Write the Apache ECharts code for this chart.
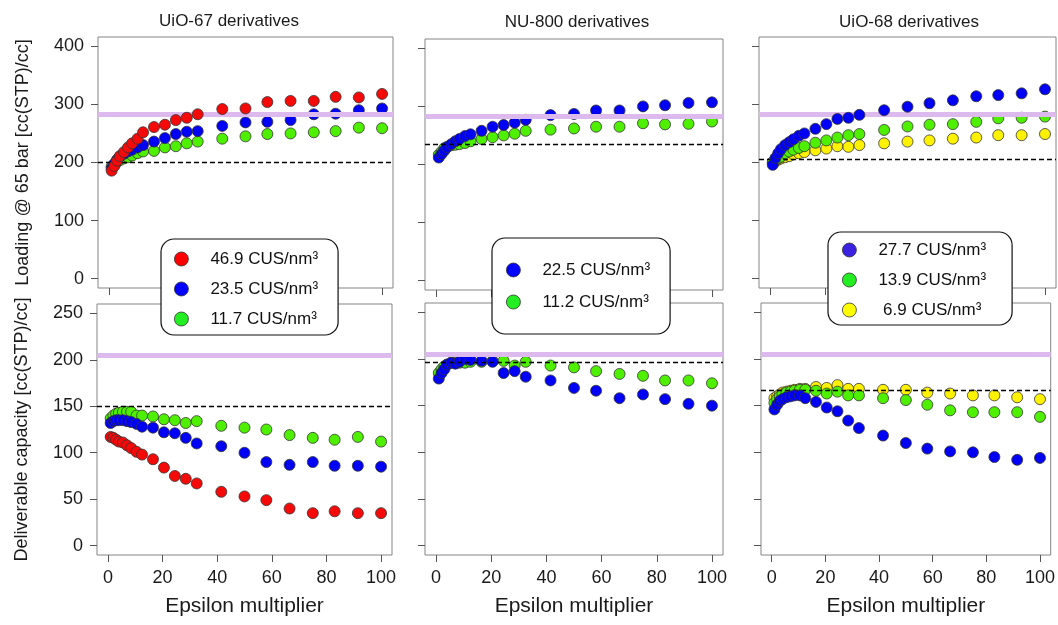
<!DOCTYPE html>
<html><head><meta charset="utf-8">
<script src="https://cdn.jsdelivr.net/npm/echarts@6/dist/echarts.min.js"></script>
<style>html,body{margin:0;padding:0;background:#fff}#c{width:1058px;height:625px}</style>
</head><body><div id="c"></div>
<script>
// ---------------- data ----------------
const epsilon = [1, 2, 3, 4, 5.5, 7, 8.5, 10.5, 12.5, 16.5, 20.5, 24.5, 28.5, 32.5, 41.5, 50, 58, 66.5, 75, 83, 91.5, 100];

const panelTitles = ['UiO-67 derivatives', 'NU-800 derivatives', 'UiO-68 derivatives'];
const loadTicks = [0, 100, 200, 300, 400];
const dcTicks = [0, 50, 100, 150, 200, 250];
const xTicks = [0, 20, 40, 60, 80, 100];

// UiO-67 (left column)
const uio67Names = ['46.9 CUS/nm³', '23.5 CUS/nm³', '11.7 CUS/nm³'];
const uio67Load469 = [186, 194, 203, 211, 218, 226, 233, 241, 252, 261, 265, 273, 277, 283, 292, 293, 304, 306, 306, 313, 312, 318];
const uio67Load235 = [190, 198, 205, 210, 215, 219, 222, 226, 230, 236, 242, 249, 253, 254, 263, 269, 270, 273, 283, 284, 290, 293];
const uio67Load117 = [193, 197, 201, 204, 207, 209, 212, 216, 219, 220, 226, 228, 233, 236, 241, 245, 249, 250, 252, 254, 260, 259];
const uio67Dc469 = [117, 116, 114, 112, 111, 108, 105, 101, 98, 93, 84, 75, 72, 67, 58, 53, 49, 40, 35, 37, 35, 35];
const uio67Dc235 = [132, 134, 135, 135, 135, 134, 133, 131, 128, 127, 122, 121, 116, 110, 107, 100, 90, 87, 90, 86, 86, 85];
const uio67Dc117 = [137, 140, 142, 143, 144, 144, 144, 140, 140, 139, 136, 135, 132, 134, 129, 127, 125, 119, 116, 114, 117, 112];

// NU-800 (middle column)
const nu800Names = ['22.5 CUS/nm³', '11.2 CUS/nm³'];
const nu800Load225 = [212, 218, 224, 230, 235, 240, 244, 249, 252, 258, 265, 268, 272, 277, 285, 287, 293, 293, 300, 302, 306, 307];
const nu800Load112 = [217, 222, 228, 230, 233, 234, 235, 237, 240, 244, 247, 250, 253, 258, 260, 262, 265, 265, 271, 269, 270, 274];
const nu800Dc225 = [179, 185, 189, 194, 196, 195, 197, 200, 199, 198, 197, 185, 187, 181, 177, 169, 166, 158, 162, 157, 152, 150];
const nu800Dc112 = [185, 189, 192, 194, 196, 196, 196, 196, 197, 197, 198, 198, 193, 197, 193, 191, 187, 184, 182, 177, 177, 174];

// UiO-68 (right column)
const uio68Names = ['27.7 CUS/nm³', '13.9 CUS/nm³', '6.9 CUS/nm³'];
const uio68Load277 = [196, 208, 216, 223, 230, 235, 240, 246, 250, 258, 266, 275, 277, 282, 290, 296, 302, 307, 314, 316, 319, 326];
const uio68Load139 = [201, 204, 208, 210, 216, 219, 222, 225, 228, 234, 238, 243, 247, 249, 256, 262, 265, 266, 270, 276, 277, 279];
const uio68Load69 = [199, 202, 205, 207, 209, 211, 214, 216, 218, 221, 224, 228, 227, 230, 233, 236, 238, 241, 243, 247, 247, 249];
const uio68Dc277 = [146, 151, 155, 157, 159, 160, 161, 161, 158, 154, 148, 144, 134, 126, 118, 110, 104, 101, 100, 95, 92, 94];
const uio68Dc139 = [153, 157, 160, 162, 164, 165, 166, 167, 167, 166, 163, 165, 161, 161, 158, 156, 151, 145, 143, 143, 143, 138];
const uio68Dc69 = [158, 160, 162, 164, 165, 166, 167, 168, 168, 170, 169, 172, 168, 168, 167, 167, 164, 163, 161, 161, 159, 157];

// reference lines (purple target, black dashed parent)
const targetLoad = [283, 283, 283];
const parentLoad = [200, 234, 206];
const targetDc = [205, 205, 205];
const parentDc = [150, 196, 166];

// ---------------- styling ----------------
const FONT = "'Liberation Sans', Arial, Helvetica, sans-serif";
const RED = '#f50a0a', BLUE = '#0000f5', GREEN = '#4ef000', YELLOW = '#fff200';
const grids = [
  {left: 98, top: 37, width: 295, height: 251},
  {left: 425, top: 39, width: 298, height: 251},
  {left: 759, top: 37, width: 297, height: 251},
  {left: 97, top: 304, width: 295, height: 251},
  {left: 425, top: 303, width: 298, height: 252},
  {left: 761, top: 303, width: 296, height: 252}
].map(g => Object.assign({show: true, borderColor: '#858585', borderWidth: 1, backgroundColor: 'transparent'}, g));

function xAxis(i) {
  const bottom = i >= 3;
  return {
    type: 'value', gridIndex: i, min: -4, max: 104, position: 'bottom',
    axisLine: {show: false, onZero: false}, splitLine: {show: false},
    axisTick: {show: true, customValues: xTicks, length: 7, lineStyle: {color: '#555'}},
    axisLabel: {show: bottom, customValues: xTicks, margin: 14, fontSize: 18, color: '#1a1a1a', fontFamily: FONT},
    name: bottom ? 'Epsilon multiplier' : '', nameLocation: 'middle', nameGap: 41,
    nameTextStyle: {fontSize: 21, color: '#1a1a1a', fontFamily: FONT}
  };
}
function yAxis(i) {
  const top = i < 3;
  const left = i === 0 || i === 3;
  const ticks = top ? loadTicks : dcTicks;
  return {
    type: 'value', gridIndex: i, min: top ? -16 : -10, max: top ? 416 : 260, position: 'left',
    axisLine: {show: false, onZero: false}, splitLine: {show: false},
    axisTick: {show: true, customValues: ticks, length: 7, lineStyle: {color: '#555'}},
    axisLabel: {show: left, customValues: ticks, margin: 14, fontSize: 18, color: '#1a1a1a', fontFamily: FONT},
    name: left ? (top ? 'Loading @ 65 bar [cc(STP)/cc]' : 'Deliverable capacity [cc(STP)/cc]') : '',
    nameLocation: 'middle', nameGap: 66,
    nameTextStyle: {fontSize: 18, color: '#1a1a1a', fontFamily: FONT}
  };
}

function pts(vals) { return vals.map((v, k) => [epsilon[k], v]); }
function scatter(name, color, vals, gi, z) {
  return {
    type: 'scatter', name: name, xAxisIndex: gi, yAxisIndex: gi, data: pts(vals),
    symbol: 'circle', symbolSize: 11, z: z,
    itemStyle: {color: color, borderColor: '#333', borderWidth: 0.8, opacity: 1},
    emphasis: {disabled: true}, animation: false
  };
}
function refLines(gi, target, parent) {
  return [
    {type: 'scatter', xAxisIndex: gi, yAxisIndex: gi, data: [], z: 1, silent: true,
     markLine: {silent: true, symbol: 'none', label: {show: false}, animation: false,
       lineStyle: {color: '#dcbaee', width: 5, type: 'solid'}, data: [{yAxis: target}]}},
    {type: 'scatter', xAxisIndex: gi, yAxisIndex: gi, data: [], z: 6, silent: true,
     markLine: {silent: true, symbol: 'none', label: {show: false}, animation: false,
       lineStyle: {color: '#000', width: 1.4, type: [5, 3]}, data: [{yAxis: parent}]}}
  ];
}

const series = [
  ...refLines(0, targetLoad[0], parentLoad[0]),
  scatter(uio67Names[2], GREEN, uio67Load117, 0, 3),
  scatter(uio67Names[1], BLUE, uio67Load235, 0, 4),
  scatter(uio67Names[0], RED, uio67Load469, 0, 5),
  ...refLines(3, targetDc[0], parentDc[0]),
  scatter(uio67Names[2], GREEN, uio67Dc117, 3, 3),
  scatter(uio67Names[1], BLUE, uio67Dc235, 3, 4),
  scatter(uio67Names[0], RED, uio67Dc469, 3, 5),

  ...refLines(1, targetLoad[1], parentLoad[1]),
  scatter(nu800Names[1], GREEN, nu800Load112, 1, 3),
  scatter(nu800Names[0], BLUE, nu800Load225, 1, 4),
  ...refLines(4, targetDc[1], parentDc[1]),
  scatter(nu800Names[1], GREEN, nu800Dc112, 4, 3),
  scatter(nu800Names[0], BLUE, nu800Dc225, 4, 4),

  ...refLines(2, targetLoad[2], parentLoad[2]),
  scatter(uio68Names[2], YELLOW, uio68Load69, 2, 3),
  scatter(uio68Names[1], GREEN, uio68Load139, 2, 4),
  scatter(uio68Names[0], BLUE, uio68Load277, 2, 5),
  ...refLines(5, targetDc[2], parentDc[2]),
  scatter(uio68Names[2], YELLOW, uio68Dc69, 5, 3),
  scatter(uio68Names[1], GREEN, uio68Dc139, 5, 4),
  scatter(uio68Names[0], BLUE, uio68Dc277, 5, 5)
];

function legendBox(names, colors, left, top, padding, gap) {
  return {
    data: names.map((n, k) => ({name: n, itemStyle: {color: colors[k], borderColor: '#333', borderWidth: 0.8}})),
    orient: 'vertical', left: left, top: top, padding: padding, itemGap: gap,
    itemWidth: 14, itemHeight: 14, icon: 'circle', selectedMode: false,
    backgroundColor: '#fff', borderColor: '#111', borderWidth: 1.2, borderRadius: 13,
    formatter: n => (n === '6.9 CUS/nm³' ? ' ' + n : n),
    textStyle: {fontSize: 17, color: '#111', fontFamily: FONT, lineHeight: 20, padding: [0, 0, 0, 17]},
    z: 10
  };
}

const option = {
  backgroundColor: '#fff',
  animation: false,
  grid: grids,
  xAxis: [0, 1, 2, 3, 4, 5].map(xAxis),
  yAxis: [0, 1, 2, 3, 4, 5].map(yAxis),
  legend: [
    legendBox(uio67Names, ['#ff0000', '#0000ff', '#22ee22'], 161, 239, [10, 20, 6, 13], 10),
    legendBox(nu800Names, ['#0000ff', '#22ee22'], 492, 238, [22, 20, 22, 14], 12),
    legendBox(uio68Names, ['#3b22e0', '#22ee22', '#ffff00'], 828, 232, [8, 26, 5, 14], 10)
  ],
  graphic: [
    {type: 'text', x: 229, y: 21, style: {text: panelTitles[0], textAlign: 'center', textVerticalAlign: 'middle', font: '17px ' + FONT, fill: '#1a1a1a'}},
    {type: 'text', x: 577, y: 22, style: {text: panelTitles[1], textAlign: 'center', textVerticalAlign: 'middle', font: '17px ' + FONT, fill: '#1a1a1a'}},
    {type: 'text', x: 909, y: 22, style: {text: panelTitles[2], textAlign: 'center', textVerticalAlign: 'middle', font: '17px ' + FONT, fill: '#1a1a1a'}}
  ],
  series: series
};

const chart = echarts.init(document.getElementById('c'), null, {renderer: 'canvas'});
chart.setOption(option);
</script>
</body></html>
